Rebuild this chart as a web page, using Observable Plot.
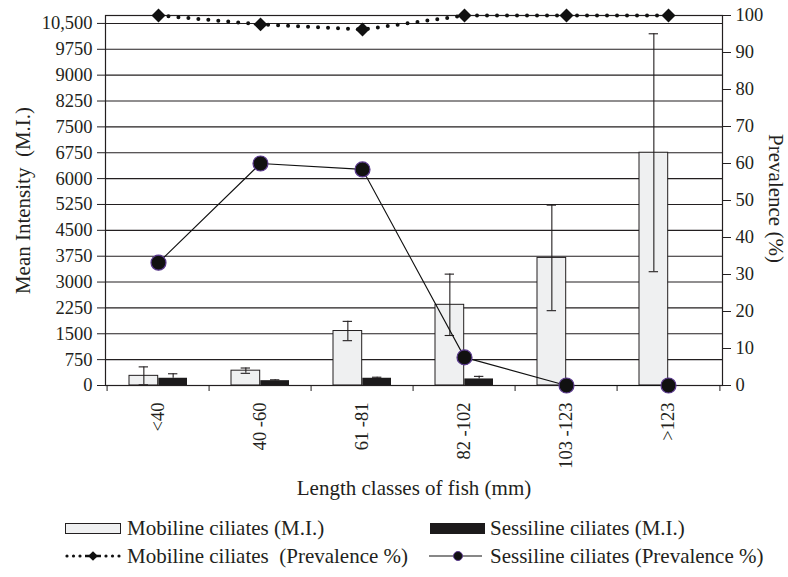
<!DOCTYPE html>
<html>
<head>
<meta charset="utf-8">
<script src="https://cdn.jsdelivr.net/npm/d3@7"></script>
<script src="https://cdn.jsdelivr.net/npm/@observablehq/plot@0.6"></script>
<style>
  html, body { margin: 0; padding: 0; background: #fff; }
  #wrap { position: relative; width: 788px; height: 577px; font-family: "Liberation Serif", "Times New Roman", serif; color: #231f20; }
  #wrap svg text { font-family: "Liberation Serif", "Times New Roman", serif; }
  #legend { position: absolute; left: 0; top: 0; width: 788px; height: 577px; pointer-events: none; }
  .lt { position: absolute; font-size: 21px; line-height: 24px; white-space: pre; }
  .ls { position: absolute; }
</style>
</head>
<body>
<div id="wrap"><div id="chart"></div><div id="legend"></div></div>
<script>
// ---- data ----
const categories = ["<40", "40 -60", "61 -81", "82 -102", "103 -123", ">123"];
const mobilineMI = [280, 430, 1580, 2340, 3700, 6750];
const mobilineErr = [260, 77, 280, 890, 1530, 3450];
const sessilineMI = [210, 140, 210, 190, 0, 0];
const sessilineErr = [130, 25, 30, 75, 0, 0];
const mobilinePrev = [100, 97.6, 96.2, 100, 100, 100];
const sessilinePrev = [33.2, 60, 58.4, 7.6, 0, 0];
const leftTicks = [0, 750, 1500, 2250, 3000, 3750, 4500, 5250, 6000, 6750, 7500, 8250, 9000, 9750, 10500];
const leftTickLabels = ["0", "750", "1500", "2250", "3000", "3750", "4500", "5250", "6000", "6750", "7500", "8250", "9000", "9750", "10,500"];
const rightTicks = [0, 10, 20, 30, 40, 50, 60, 70, 80, 90, 100];
const rightTickLabels = ["0", "10", "20", "30", "40", "50", "60", "70", "80", "90", "100"];
const yTop = 10730;          // left-axis value at the top of the frame (= 100 %)
const K = yTop / 100;         // prevalence -> left axis units

const rows = categories.map((c, i) => ({
  cat: c, mob: mobilineMI[i], mobE: mobilineErr[i], ses: sessilineMI[i], sesE: sessilineErr[i],
  mobP: mobilinePrev[i], sesP: sessilinePrev[i]
}));

// ---- layout ----
const W = 788, H = 505, mL = 105, mR = 66, mT = 15, mB = 120;
const step = (W - mL - mR) / categories.length;
const pin = 0.43;
const bw = step * (1 - pin);
const ink = "#231f20";
const serif = "'Liberation Serif', 'Times New Roman', serif";

const chart = Plot.plot({
  width: W, height: H,
  marginLeft: mL, marginRight: mR, marginTop: mT, marginBottom: mB,
  style: { fontFamily: serif, fontSize: "18.5px", color: ink, background: "white", overflow: "visible" },
  x: { type: "band", domain: categories, paddingInner: pin, paddingOuter: pin / 2, axis: null },
  y: { domain: [0, yTop], axis: null },
  marks: [
    Plot.gridY(leftTicks.slice(1), { stroke: ink, strokeOpacity: 1, strokeWidth: 1.1 }),
    Plot.barY(rows, { x: "cat", y: "mob", fill: "#eff0f1", stroke: ink, strokeWidth: 1, insetRight: bw / 2 }),
    Plot.barY(rows, { x: "cat", y: "ses", fill: "#1c1a1b", insetLeft: bw / 2 }),
    // error bars
    Plot.ruleX(rows, { x: "cat", y1: d => d.mob - d.mobE, y2: d => d.mob + d.mobE, dx: -bw / 4, stroke: ink, strokeWidth: 1.1 }),
    Plot.tickY(rows, { x: "cat", y: d => d.mob + d.mobE, dx: -bw / 4, insetLeft: bw / 2 - 5, insetRight: bw / 2 - 5, stroke: ink, strokeWidth: 1.1 }),
    Plot.tickY(rows, { x: "cat", y: d => d.mob - d.mobE, dx: -bw / 4, insetLeft: bw / 2 - 5, insetRight: bw / 2 - 5, stroke: ink, strokeWidth: 1.1 }),
    Plot.ruleX(rows.filter(d => d.sesE > 0), { x: "cat", y1: "ses", y2: d => d.ses + d.sesE, dx: bw / 4, stroke: ink, strokeWidth: 1.1 }),
    Plot.tickY(rows.filter(d => d.sesE > 0), { x: "cat", y: d => d.ses + d.sesE, dx: bw / 4, insetLeft: bw / 2 - 5, insetRight: bw / 2 - 5, stroke: ink, strokeWidth: 1.1 }),
    Plot.frame({ stroke: ink, strokeWidth: 1.2 }),
    // axes
    Plot.axisY(leftTicks, { anchor: "left", label: null, tickSize: 8, tickPadding: 5, stroke: ink, tickFormat: d => leftTickLabels[leftTicks.indexOf(d)] }),
    Plot.axisY(rightTicks.map(p => p * K), { anchor: "right", label: null, tickSize: 8, tickPadding: 5, stroke: ink, tickFormat: d => rightTickLabels[rightTicks.indexOf(Math.round(d / K))] }),
    Plot.axisX(categories, { anchor: "bottom", label: null, tickSize: 6, tickFormat: () => "", dx: -step / 2, stroke: ink }),
    Plot.axisX([categories[categories.length - 1]], { anchor: "bottom", label: null, tickSize: 6, tickFormat: () => "", dx: step / 2, stroke: ink }),
    Plot.axisX(categories, { anchor: "bottom", label: null, tickSize: 0, tickPadding: 17, tickRotate: -90, fill: ink }),
    // prevalence lines
    Plot.line(rows, { x: "cat", y: d => d.sesP * K, stroke: "#111", strokeWidth: 1.1 }),
    Plot.dot(rows, { x: "cat", y: d => d.sesP * K, r: 7.5, fill: "#111", stroke: "#5b3a8e", strokeWidth: 1.2 }),
    Plot.line(rows, { x: "cat", y: d => d.mobP * K, stroke: "#111", strokeWidth: 4, strokeDasharray: "0 10", strokeLinecap: "round" }),
    Plot.dot(rows, { x: "cat", y: d => d.mobP * K, symbol: "diamond2", r: 6.3, fill: "#111", stroke: "none" }),
    // axis titles
    Plot.text(["Length classes of fish (mm)"], { frameAnchor: "bottom", lineAnchor: "middle", textAnchor: "middle", dy: 103, fontSize: 21, fill: ink }),
    Plot.text(["Mean Intensity\u00a0 (M.I.)"], { frameAnchor: "left", textAnchor: "middle", lineAnchor: "middle", dx: -82, rotate: -90, fontSize: 21, fill: ink }),
    Plot.text(["Prevalence (%)"], { frameAnchor: "right", textAnchor: "middle", lineAnchor: "middle", dx: 53, dy: -2, rotate: 90, fontSize: 21, fill: ink })
  ]
});
document.getElementById("chart").appendChild(chart);

// ---- legend ----
const legendItems = [
  { label: "Mobiline ciliates (M.I.)", kind: "lightbar", x: 65, textX: 127, cy: 528 },
  { label: "Sessiline ciliates (M.I.)", kind: "darkbar", x: 430, textX: 490, cy: 528 },
  { label: "Mobiline ciliates  (Prevalence %)", kind: "dotline", x: 65, textX: 127, cy: 556 },
  { label: "Sessiline ciliates (Prevalence %)", kind: "circleline", x: 429, textX: 490, cy: 556 }
];
const leg = d3.select("#legend");
for (const it of legendItems) {
  const s = leg.append("svg").attr("class", "ls").attr("width", 58).attr("height", 16)
    .style("left", it.x + "px").style("top", (it.cy - 8) + "px");
  if (it.kind === "lightbar") {
    s.append("rect").attr("x", 0.5).attr("y", 3.5).attr("width", 55).attr("height", 10).attr("fill", "#eff0f1").attr("stroke", ink);
  } else if (it.kind === "darkbar") {
    s.append("rect").attr("x", 0).attr("y", 3).attr("width", 55).attr("height", 11).attr("fill", "#1c1a1b");
  } else if (it.kind === "dotline") {
    for (const cx of [2, 8.5, 15, 41, 47.5, 54]) {
      s.append("circle").attr("cx", cx).attr("cy", 8).attr("r", 1.6).attr("fill", "#111");
    }
    s.append("line").attr("x1", 20).attr("x2", 36).attr("y1", 8).attr("y2", 8).attr("stroke", "#111").attr("stroke-width", 2.5);
    s.append("path").attr("d", d3.symbol(d3.symbolDiamond2, 60)()).attr("transform", "translate(28,8)").attr("fill", "#111");
  } else {
    s.append("line").attr("x1", 0).attr("x2", 53).attr("y1", 8).attr("y2", 8).attr("stroke", "#111").attr("stroke-width", 1.1);
    s.append("circle").attr("cx", 29).attr("cy", 8).attr("r", 4.5).attr("fill", "#111").attr("stroke", "#5b3a8e");
  }
  leg.append("div").attr("class", "lt").style("left", it.textX + "px").style("top", (it.cy - 12) + "px").text(it.label);
}
</script>
</body>
</html>
